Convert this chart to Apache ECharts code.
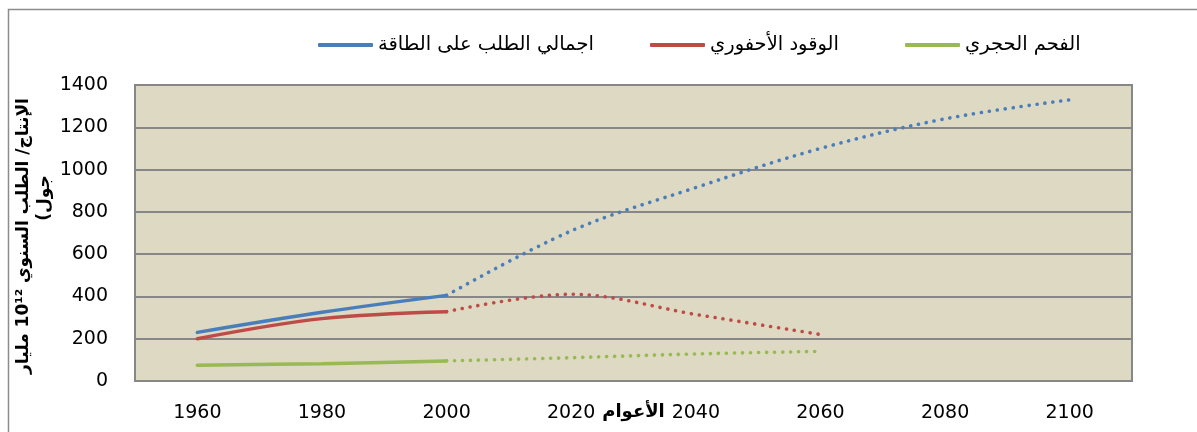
<!DOCTYPE html>
<html lang="ar">
<head>
<meta charset="utf-8">
<title>الطلب على الطاقة</title>
<script src="https://cdn.jsdelivr.net/npm/echarts@6/dist/echarts.min.js"></script>
<style>
  html, body { margin: 0; padding: 0; background: #ffffff; }
  #chart { width: 1197px; height: 432px; }
</style>
</head>
<body>
<div id="chart"></div>
<script>
// Years on the horizontal axis
const years = ['1960', '1980', '2000', '2020', '2040', '2060', '2080', '2100'];

// Total energy demand (10^12 MJ): recorded up to 2000, projected afterwards
const totalDemandRecorded = [230, 325, 405, null, null, null, null, null];
const totalDemandProjected = [null, null, 405, 710, 915, 1100, 1240, 1330];

// Fossil fuels
const fossilRecorded = [200, 295, 328, null, null, null, null, null];
const fossilProjected = [null, null, 328, 410, 315, 220, null, null];

// Coal
const coalRecorded = [75, 82, 95, null, null, null, null, null];
const coalProjected = [null, null, 95, 110, 128, 140, null, null];

// Series names / legend labels
const nameTotal = 'اجمالي الطلب على الطاقة';
const nameFossil = 'الوقود الأحفوري';
const nameCoal = 'الفحم الحجري';

const yTitleLine1 = 'الإنتاج/ الطلب السنوي 10¹² مليار';
const yTitleLine2 = '(جول';
const xTitle = 'الأعوام';

const FONT = '"DejaVu Sans", sans-serif';
const colors = { total: '#4a7ebb', fossil: '#be4b48', coal: '#98b954' };

function solid(name, data, color) {
  return {
    name, type: 'line', data, smooth: 0.35, symbol: 'none',
    lineStyle: { color, width: 3.5, cap: 'round' },
    itemStyle: { color },
    z: 3
  };
}
function dotted(name, data, color) {
  return {
    name, type: 'line', data, smooth: 0.35, symbol: 'none',
    lineStyle: { color, width: 3.6, type: [0.1, 7.9], cap: 'round' },
    itemStyle: { color },
    z: 3
  };
}

function legendAt(name, left) {
  return {
    data: [name], left, top: 30, icon: 'roundRect',
    itemWidth: 55, itemHeight: 4, itemGap: 0,
    textStyle: { fontFamily: FONT, fontSize: 19.5, color: '#000' }
  };
}

const chart = echarts.init(document.getElementById('chart'), null, { renderer: 'canvas' });

chart.setOption({
  animation: false,
  backgroundColor: '#ffffff',
  textStyle: { fontFamily: FONT },
  grid: {
    left: 135, right: 65, top: 85, bottom: 51,
    outerBoundsMode: 'none', containLabel: false,
    show: true, backgroundColor: '#ddd9c3',
    borderColor: '#878787', borderWidth: 2
  },
  legend: [
    legendAt(nameTotal, 313),
    legendAt(nameFossil, 645),
    legendAt(nameCoal, 900)
  ],
  xAxis: {
    type: 'category', data: years, boundaryGap: true,
    axisLine: { show: false }, axisTick: { show: false },
    axisLabel: { color: '#000', fontFamily: FONT, fontSize: 19, margin: 23 },
    name: xTitle, nameLocation: 'middle', nameGap: 22, nameMoveOverlap: false,
    nameTextStyle: { color: '#000', fontFamily: FONT, fontSize: 18, fontWeight: 'bold' }
  },
  yAxis: {
    type: 'value', min: 0, max: 1400, interval: 200,
    axisLine: { show: false }, axisTick: { show: false },
    axisLabel: { color: '#000', fontFamily: FONT, fontSize: 19, margin: 27, formatter: (v) => String(v) },
    splitLine: { lineStyle: { color: '#878787', width: 2 } }
  },
  graphic: [
    {
      type: 'rect', silent: true, z: -10,
      shape: { x: 8.5, y: 9.5, width: 1400, height: 600 },
      style: { fill: 'none', stroke: '#8c8c8c', lineWidth: 1.5 }
    },
    {
      type: 'text', silent: true, x: 24, y: 236, rotation: Math.PI / 2,
      style: {
        text: yTitleLine1, fill: '#000', align: 'center', verticalAlign: 'middle',
        font: 'bold 17px ' + FONT
      }
    },
    {
      type: 'text', silent: true, x: 45, y: 198, rotation: Math.PI / 2,
      style: {
        text: yTitleLine2, fill: '#000', align: 'center', verticalAlign: 'middle',
        font: 'bold 17px ' + FONT
      }
    }
  ],
  series: [
    solid(nameTotal, totalDemandRecorded, colors.total),
    solid(nameFossil, fossilRecorded, colors.fossil),
    solid(nameCoal, coalRecorded, colors.coal),
    dotted(nameTotal, totalDemandProjected, colors.total),
    dotted(nameFossil, fossilProjected, colors.fossil),
    dotted(nameCoal, coalProjected, colors.coal)
  ]
});
</script>
</body>
</html>
